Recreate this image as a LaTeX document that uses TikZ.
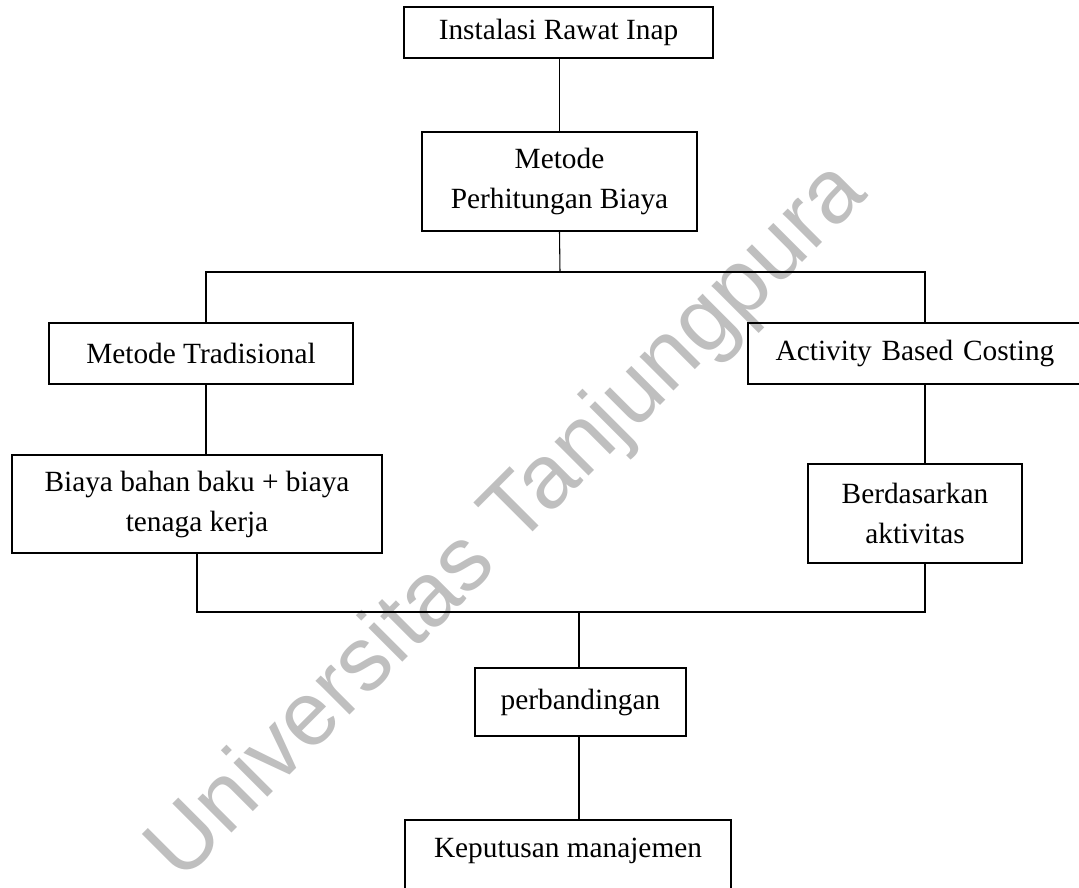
\documentclass[tikz,border=0pt]{standalone}
\usepackage{fontspec}
\setmainfont{Liberation Serif}
\newfontfamily\wmfont{Liberation Sans}
\usetikzlibrary{calc}
\def\PX{0.75pt}
\begin{document}
\begin{tikzpicture}[x=0.75pt,y=-0.75pt,
  box/.style={draw, line width=0.9pt, inner sep=0pt, align=center,
              font=\fontsize{22}{30}\selectfont},
  conn/.style={line width=0.8pt},
  wmark/.style={rotate=45, text=black!25, font=\wmfont\fontsize{68}{80}\selectfont}]
\useasboundingbox (0,0) rectangle (1079,888);
\clip (0,0) rectangle (1079,888);
\node[wmark] (wm) at (509,523) {Universitas Tanjungpura};

\node[box, minimum width=309*\PX, minimum height=51*\PX] (b1) at (558.5,32.5) {Instalasi Rawat Inap};
\node[box, minimum width=275*\PX, minimum height=99*\PX] (b2) at (559.5,181.5) {Metode\\Perhitungan Biaya};
\node[box, minimum width=304*\PX, minimum height=61*\PX] (b3) at (201,353.5) {Metode Tradisional};
\node[box, minimum width=370*\PX, minimum height=98*\PX] (b4) at (197,504) {Biaya bahan baku + biaya\\tenaga kerja};
\node[box, minimum width=334*\PX, minimum height=61*\PX, text width=334*\PX] (b5) at (915,353.5) {Activity Based Costing};
\node[box, minimum width=214*\PX, minimum height=99*\PX] (b6) at (915,513.5) {Berdasarkan\\aktivitas};
\node[box, minimum width=211*\PX, minimum height=68*\PX] (b7) at (580.5,702) {perbandingan};
\node[box, minimum width=326*\PX, minimum height=99*\PX] (b8) at (568,869.5) {\strut Keputusan manajemen\\\strut};

\coordinate (j1) at (560,272);
\coordinate (j2) at (579,612);

\draw[conn] (b1.south) -- (b2.south |- b1.south) -- (b2.north);
\draw[conn] (b2.south) -- (j1);
\draw[conn] ($(b3.north)+(5,0)$) |- (j1) -| ($(b5.north)+(10,0)$);
\draw[conn] ($(b3.south)+(5,0)$) -- ($(b4.north)+(9,0)$);
\draw[conn] ($(b5.south)+(10,0)$) -- ($(b6.north)+(10,0)$);
\draw[conn] (b4.south) |- (j2) -| ($(b6.south)+(10,0)$);
\draw[conn] (j2) -- (j2 |- b7.north);
\draw[conn] (j2 |- b7.south) -- (j2 |- b8.north);
\end{tikzpicture}
\end{document}
